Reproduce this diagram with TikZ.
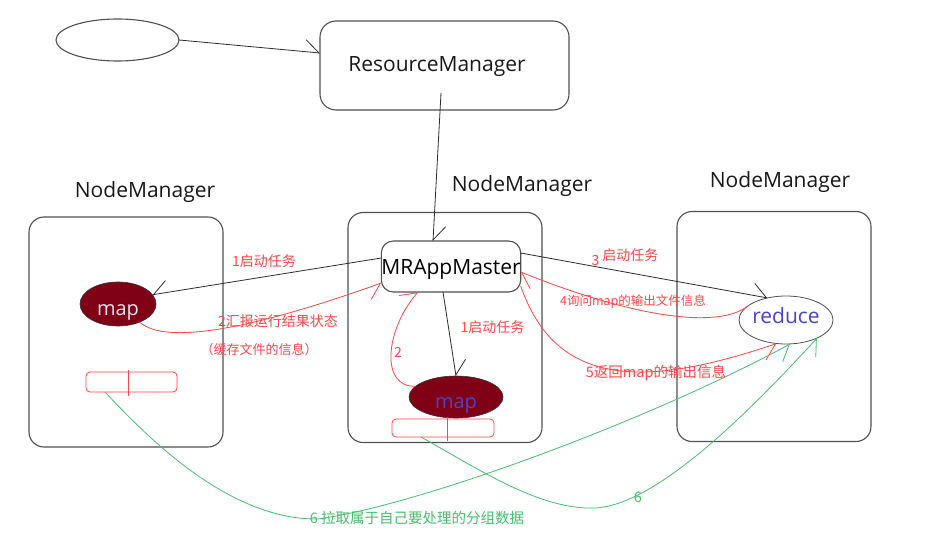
\documentclass[tikz,border=0pt]{standalone}
\usepackage{fontspec}
\setmainfont{Open Sans}
\newfontfamily\cjk{Noto Sans CJK SC}
\usetikzlibrary{arrows.meta,shapes.geometric}
\definecolor{boxgray}{RGB}{80,80,80}
\definecolor{linegray}{RGB}{45,45,45}
\definecolor{lred}{RGB}{255,70,70}
\definecolor{lgreen}{RGB}{70,190,110}
\definecolor{mapred}{RGB}{128,0,22}
\definecolor{mapblue}{RGB}{70,70,205}
\definecolor{mapwhite}{RGB}{235,228,235}
\begin{document}
\begin{tikzpicture}[x=1pt,y=-1pt,
  every node/.style={inner sep=0pt, outer sep=0pt},
  nmbox/.style={draw=boxgray, line width=1.1pt, rounded corners=15pt, minimum width=194pt, minimum height=230pt},
  title/.style={anchor=base, font=\fontsize{21}{24}\selectfont, text=black!90},
  mapnode/.style={ellipse, fill=mapred, draw=black!80, line width=0.6pt},
  maplbl/.style={font=\fontsize{20}{24}\selectfont},
  bar/.style={draw=lred, line width=0.8pt, rounded corners=4pt},
  rlbl/.style={text=lred, font=\cjk\fontsize{14}{16}\selectfont},
  glbl/.style={text=lgreen, font=\cjk\fontsize{14.5}{17}\selectfont},
  blk/.style={draw=linegray, line width=0.8pt},
  redline/.style={draw=lred, line width=0.8pt},
  grnline/.style={draw=lgreen, line width=0.8pt},
  tipL/.style={-{Straight Barb[left,length=14pt,width=24pt]}},
  tipR/.style={-{Straight Barb[right,length=14pt,width=24pt]}},
]
\useasboundingbox (0,0) rectangle (928,548);
\fill[white] (0,0) rectangle (928,548);

% boxes
\node[draw=boxgray, line width=1.1pt, ellipse, minimum width=123pt, minimum height=42pt] (client) at (117.5,40) {};
\node[draw=boxgray, line width=1.1pt, rounded corners=16pt, minimum width=249pt, minimum height=89pt] (rm) at (444.5,65.5) {};
\node[title] (rmt) at (437,72) {ResourceManager};

\node[nmbox] (nm1) at (126,332) {};
\node[nmbox] (nm2) at (445,327.5) {};
\node[nmbox] (nm3) at (774,326.5) {};
\node[title] (nm1t) at (145,197) {NodeManager};
\node[title] (nm2t) at (522,191) {NodeManager};
\node[title] (nm3t) at (780,187) {NodeManager};

\node[draw=boxgray, line width=1.1pt, rounded corners=12pt, minimum width=134pt, minimum height=51pt, font=\fontsize{21}{24}\selectfont, text depth=0pt] (mra) at (451,266.5) {MRAppMaster};

\node[mapnode, minimum width=76pt, minimum height=44pt, label={[maplbl, text=mapwhite, yshift=-8pt]center:map}] (map1) at (118,304) {};
\node[mapnode, minimum width=94pt, minimum height=42pt, label={[maplbl, text=mapblue, yshift=-8pt]center:map}] (map2) at (456,397) {};
\node[ellipse, draw=boxgray, line width=0.8pt, fill=white, minimum width=94pt, minimum height=48pt, label={[font=\fontsize{21}{24}\selectfont, text=mapblue, yshift=4pt]center:reduce}] (reduce) at (786,320) {};

\node[bar, minimum width=91pt, minimum height=20pt] (bar1) at (131.5,382) {};
\node[bar, minimum width=102pt, minimum height=18pt] (bar2) at (443,428) {};
\draw[lred, line width=0.8pt] ([xshift=-3.5pt,yshift=2pt]bar1.north) -- ([xshift=-3.5pt,yshift=-4pt]bar1.south);
\draw[lred, line width=0.8pt] ([xshift=4pt,yshift=2pt]bar2.north) -- ([xshift=4pt,yshift=-4pt]bar2.south);

% connectors
\draw[blk, tipL] (client.east) -- ([yshift=12.5pt]rm.west);
\draw[blk, tipL] ([xshift=-3.5pt,yshift=17pt]rm.south) -- ([xshift=-18pt]mra.north);
\draw[blk, tipR] ([yshift=8.5pt]mra.west) -- (map1.15);
\draw[redline, tipR] (map1.-40) .. controls (165,345) and (250,330) .. ([yshift=-16.5pt]mra.west);
\draw[blk, tipL] ([xshift=-8pt]mra.south) -- (map2.north);
\draw[redline, tipL] (map2.165) .. controls (380,388) and (385,330) .. ([xshift=-33pt]mra.south);
\draw[blk, tipL] ([yshift=13.5pt]mra.east) -- (reduce.130);
\draw[redline, tipL] (reduce.160) .. controls (720,328) and (640,320) .. ([yshift=-5.5pt]mra.east);
\draw[redline, tipR] ([yshift=-19.5pt]mra.east) .. controls (555,385) and (640,390) .. (reduce.-112);
\draw[grnline, tipR] ([xshift=19pt]bar1.south west) .. controls (150,440) and (230,520) .. (318,519) .. controls (420,505) and (650,420) .. (reduce.-80);
\draw[grnline, tipR] ([xshift=-22pt]bar2.south) .. controls (480,470) and (540,510) .. (595,508) .. controls (660,505) and (760,400) .. (reduce.-30);

% labels
\node[rlbl] (l1) at (264,261.5) {1启动任务};
\node[rlbl] (l2) at (278,321.5) {2汇报运行结果状态};
\node[rlbl, font=\cjk\fontsize{13}{15}\selectfont] (l2b) at (259,349.5) {（缓存文件的信息）};
\node[rlbl] (l3) at (492.5,327) {1启动任务};
\node[rlbl] (l4) at (398,352) {2};
\node[rlbl] (l5) at (625,257) {\raisebox{-5pt}{3} 启动任务};
\node[rlbl, font=\cjk\fontsize{12.5}{14}\selectfont] (l6) at (633,302) {4询问map的输出文件信息};
\node[rlbl, font=\cjk\fontsize{14.5}{16}\selectfont] (l7) at (656,372.5) {5返回map的输出信息};
\node[glbl] (l8) at (417,518) {6 拉取属于自己要处理的分组数据};
\node[glbl] (l9) at (638,497) {6};
\end{tikzpicture}
\end{document}
